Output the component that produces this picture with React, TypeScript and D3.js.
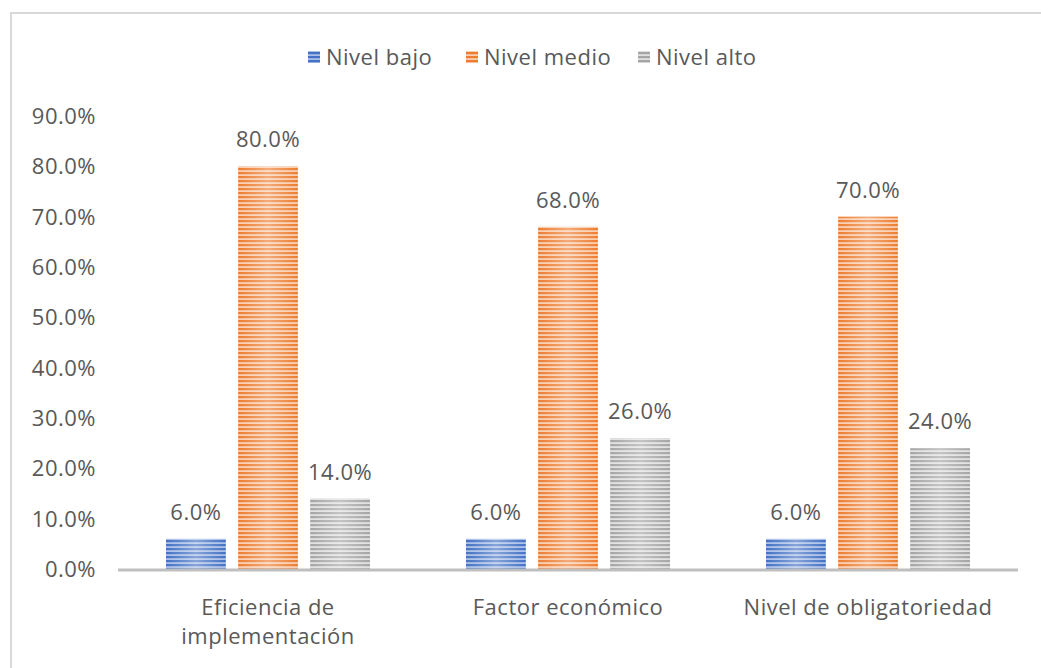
import React from "react";
import * as d3 from "d3";

const categories = [["Eficiencia de", "implementación"], ["Factor económico"], ["Nivel de obligatoriedad"]];
const seriesNames = ["Nivel bajo", "Nivel medio", "Nivel alto"];
const bajo = [6.0, 6.0, 6.0];
const medio = [80.0, 68.0, 70.0];
const alto = [14.0, 26.0, 24.0];
const yTicks = [0, 10, 20, 30, 40, 50, 60, 70, 80, 90];

const colours = ["#4472c4", "#ed7d31", "#a5a5a5"];
const lights = ["#a9bfe8", "#f9cdae", "#e0e0e0"];
const font = "'Open Sans', Lato, sans-serif";
const textCol = "#595959";
const fs = 22;
const ls = 0.5;

export default function App() {
  const W = 1041, H = 668;
  const left = 118, right = 1018, top = 116, bottom = 569;
  const series = [bajo, medio, alto];

  const x0 = d3.scaleBand().domain(["0", "1", "2"]).range([left, right]).paddingInner(0).paddingOuter(0);
  const x1 = d3.scaleBand().domain(["0", "1", "2"]).range([48, 252]).paddingInner(0.17);
  const y = d3.scaleLinear().domain([0, 90]).range([bottom, top]);
  const legendX = [308, 466, 638];

  return (
    <svg width={W} height={H} style={{ position: "absolute", left: 0, top: 0, background: "#fff" }}>
      <defs>
        {colours.map((c, i) => (
          <pattern key={i} id={"stripe" + i} width={8} height={4} patternUnits="userSpaceOnUse">
            <rect width={8} height={4} fill={lights[i]} />
            <rect width={8} height={2.2} fill={c} />
          </pattern>
        ))}
        <linearGradient id="shine" x1="0" x2="1" y1="0" y2="0">
          <stop offset="0" stopColor="#fff" stopOpacity={0} />
          <stop offset="0.5" stopColor="#fff" stopOpacity={0.35} />
          <stop offset="1" stopColor="#fff" stopOpacity={0} />
        </linearGradient>
      </defs>
      <rect x={11} y={13} width={W + 20} height={H + 20} fill="none" stroke="#d9d9d9" strokeWidth={2} />

      {/* legend */}
      {seriesNames.map((name, i) => (
        <g key={i}>
          <rect x={legendX[i]} y={51} width={12} height={12} fill={`url(#stripe${i})`} />
          <text x={legendX[i] + 18} y={65} fontFamily={font} fontSize={fs} letterSpacing={ls} fill={textCol}>{name}</text>
        </g>
      ))}

      {/* y axis labels */}
      {yTicks.map(t => (
        <text key={t} x={96} y={y(t) + 8} textAnchor="end" fontFamily={font} fontSize={fs} letterSpacing={ls} fill={textCol}>
          {t.toFixed(1) + "%"}
        </text>
      ))}

      {/* bars */}
      {categories.map((cat, ci) => (
        <g key={ci} transform={`translate(${x0(String(ci))},0)`}>
          {series.map((s, si) => {
            const bx = x1(String(si))!;
            const bw = x1.bandwidth();
            const v = s[ci];
            return (
              <g key={si}>
                <rect x={bx} y={y(v)} width={bw} height={bottom - y(v)} fill={`url(#stripe${si})`} />
                <rect x={bx} y={y(v)} width={bw} height={bottom - y(v)} fill="url(#shine)" />
                <text x={bx + bw / 2} y={y(v) - 19} textAnchor="middle" fontFamily={font} fontSize={fs} letterSpacing={ls} fill={textCol}>
                  {v.toFixed(1) + "%"}
                </text>
              </g>
            );
          })}
          {cat.map((line, li) => (
            <text key={li} x={x0.bandwidth() / 2} y={615 + li * 29} textAnchor="middle" fontFamily={font} fontSize={fs} letterSpacing={ls} fill={textCol}>
              {line}
            </text>
          ))}
        </g>
      ))}

      <line x1={left} x2={right} y1={bottom + 1} y2={bottom + 1} stroke="#bfbfbf" strokeWidth={3} />
    </svg>
  );
}
